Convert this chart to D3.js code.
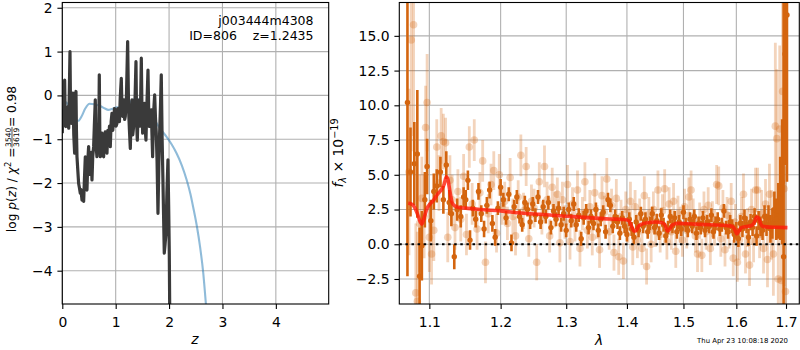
<!DOCTYPE html>
<html><head><meta charset="utf-8">
<script src="https://cdn.jsdelivr.net/npm/d3@7"></script>
<style>body{margin:0;background:#fff}svg{display:block;font-family:"DejaVu Sans",sans-serif}</style>
</head><body><svg id="c" width="800" height="350"></svg>
<script>
// ---------- data: left panel ----------
const zTicks = [0,1,2,3,4];
const logpTicks = [-4,-3,-2,-1,0,1,2];
const pzPoints = [[0.000,-0.86],[0.010,-0.35],[0.020,-0.70],[0.030,-0.45],[0.044,0.35],[0.055,-0.60],[0.069,-0.71],[0.085,-0.30],[0.106,-0.26],[0.120,-0.75],[0.144,1.00],[0.155,-0.40],[0.169,-0.64],[0.185,-0.20],[0.200,0.05],[0.215,-0.90],[0.231,-1.32],[0.245,0.00],[0.256,0.09],[0.265,-0.80],[0.275,-1.40],[0.290,-1.70],[0.306,-2.01],[0.320,-2.10],[0.337,-2.23],[0.350,-2.15],[0.369,-2.39],[0.385,-2.20],[0.400,-2.42],[0.415,-1.90],[0.431,-1.40],[0.445,-1.95],[0.462,-2.16],[0.478,-1.50],[0.493,-1.17],[0.510,-1.80],[0.525,-1.63],[0.540,-1.30],[0.556,-1.93],[0.570,-1.40],[0.587,-1.17],[0.600,-0.70],[0.618,-0.10],[0.630,-1.10],[0.649,-1.40],[0.665,-0.90],[0.680,-1.30],[0.693,0.47],[0.703,-0.90],[0.712,-1.40],[0.728,-1.00],[0.743,-0.86],[0.758,-1.35],[0.774,-1.40],[0.790,-0.95],[0.805,-0.83],[0.820,-1.20],[0.837,-1.32],[0.852,-0.80],[0.868,-1.02],[0.884,-0.70],[0.899,-1.17],[0.915,-0.60],[0.930,-0.41],[0.945,-0.80],[0.961,-0.56],[0.977,-0.30],[0.993,-0.33],[1.008,-0.70],[1.024,-0.64],[1.040,-0.30],[1.055,-0.41],[1.070,-0.60],[1.086,-0.03],[1.105,0.39],[1.118,-0.30],[1.130,-0.48],[1.143,-0.20],[1.155,-0.10],[1.168,-0.55],[1.180,-0.48],[1.200,-0.10],[1.224,1.23],[1.242,-0.33],[1.258,-0.80],[1.274,-1.21],[1.290,-0.40],[1.305,-0.10],[1.320,-0.90],[1.336,-0.71],[1.360,-0.20],[1.380,0.77],[1.392,-0.60],[1.405,-1.02],[1.420,-0.40],[1.442,-0.10],[1.460,-0.70],[1.480,0.85],[1.492,-0.30],[1.505,-0.86],[1.520,-0.50],[1.542,-0.18],[1.555,-0.80],[1.567,-1.02],[1.585,-0.20],[1.605,0.58],[1.618,-0.30],[1.630,-0.71],[1.650,-0.40],[1.667,-0.33],[1.680,-0.90],[1.692,-1.40],[1.710,-0.40],[1.730,0.01],[1.745,-0.50],[1.760,-0.86],[1.775,-1.50],[1.792,-2.69],[1.808,-1.60],[1.823,-0.86],[1.840,-0.20],[1.854,0.47],[1.870,-1.00],[1.885,-1.93],[1.898,-2.80],[1.910,-3.60],[1.925,-3.40],[1.942,-3.15],[1.960,-2.20],[1.979,-1.47],[1.992,-2.50],[2.004,-3.60],[2.016,-5.50],[2.020,-8.00]];
const priorPoints = [[0,-0.48],[0.03,-0.25],[0.07,-0.16],[0.12,-0.25],[0.18,-0.45],[0.24,-0.56],[0.30,-0.58],[0.36,-0.48],[0.43,-0.30],[0.51,-0.19],[0.60,-0.20],[0.71,-0.24],[0.80,-0.30],[0.86,-0.33],[0.93,-0.31],[1.02,-0.27],[1.10,-0.27],[1.17,-0.26],[1.25,-0.18],[1.32,-0.10],[1.39,-0.07],[1.45,-0.12],[1.52,-0.20],[1.58,-0.28],[1.68,-0.45],[1.77,-0.64],[1.86,-0.80],[1.95,-0.94],[2.05,-1.12],[2.14,-1.32],[2.24,-1.60],[2.33,-1.93],[2.40,-2.25],[2.45,-2.54],[2.52,-2.98],[2.58,-3.45],[2.64,-4.05],[2.69,-4.76],[2.75,-5.60]];
const annotLines = ["j003444m4308", "ID=806    z=1.2435"];

// ---------- data: right panel ----------
const lamTicks = [1.1,1.2,1.3,1.4,1.5,1.6,1.7];
const fluxTicks = [-2.5,0,2.5,5,7.5,10,12.5,15];
const darkPts = [[1.071,10.2,12.5],[1.075,5.2,3.2],[1.080,5.8,3.0],[1.084,6.5,4.6],[1.087,-2.3,3.5],[1.090,-0.1,2.5],[1.094,3.2,2.0],[1.097,5.6,2.0],[1.102,1.7,1.5],[1.106,3.8,1.3],[1.110,4.2,1.2],[1.115,5.2,1.1],[1.119,3.2,1.0],[1.123,5.7,1.0],[1.127,3.0,0.9],[1.130,2.2,0.9],[1.134,-0.9,0.9],[1.138,2.5,0.8],[1.143,2.0,0.8],[1.147,3.4,0.7],[1.150,3.2,0.7],[1.153,4.6,0.7],[1.156,0.3,0.7],
[1.160,2.6,0.6],[1.164,1.8,0.6],[1.168,3.8,0.6],[1.172,2.2,0.6],[1.176,1.1,0.6],[1.180,2.8,0.6],[1.184,3.9,0.6],[1.188,1.5,0.6],[1.192,0.5,0.6],[1.196,2.6,0.5],[1.200,4.1,0.6],[1.204,3.2,0.5],[1.208,1.9,0.5],[1.212,3.6,0.5],[1.216,0.1,0.6],[1.220,2.7,0.5],[1.224,3.4,0.5],[1.228,2.0,0.5],[1.232,1.4,0.5],[1.236,3.0,0.5],[1.240,2.5,0.5],[1.244,1.6,0.5],[1.248,2.9,0.5],[1.252,2.1,0.5],[1.256,3.4,0.5],[1.260,1.6,0.5],[1.264,2.7,0.5],[1.268,2.0,0.5],[1.272,3.0,0.5],[1.276,1.2,0.5],[1.280,2.4,0.5],[1.284,1.8,0.5],[1.288,2.6,0.5],[1.292,1.4,0.5],[1.296,2.2,0.5],[1.300,1.0,0.5],[1.304,2.5,0.5],[1.308,1.7,0.5],[1.312,2.9,0.5],[1.316,1.4,0.5],[1.320,2.1,0.5],[1.324,0.4,0.5],[1.328,1.9,0.5],[1.332,2.4,0.5],[1.336,1.2,0.5],[1.340,2.0,0.5],[1.344,1.5,0.5],[1.348,2.5,0.5],[1.352,1.0,0.5],[1.356,1.8,0.5],[1.360,2.3,0.5],[1.364,0.9,0.5],[1.368,3.2,0.5],[1.372,2.8,0.5],[1.376,1.3,0.5],[1.380,2.0,0.5],[1.384,1.6,0.5],[1.388,0.8,0.5],[1.392,1.9,0.5],[1.396,1.3,0.5],[1.400,0.7,0.5],[1.404,1.8,0.5],[1.408,1.1,0.5],[1.412,0.5,0.5],[1.416,1.6,0.5],[1.420,1.0,0.5],[1.424,2.2,0.5],[1.428,1.3,0.5],[1.432,1.8,0.5],[1.436,0.9,0.5],[1.440,1.5,0.5],[1.444,2.2,0.5],[1.448,1.2,0.5],[1.452,1.7,0.5],[1.456,0.8,0.5],[1.460,2.1,0.5],[1.464,1.4,0.5],[1.468,0.6,0.5],[1.472,1.2,0.5],[1.476,2.0,0.5],[1.480,1.3,0.5],[1.484,1.9,0.5],[1.488,0.9,0.5],[1.492,1.6,0.5],[1.496,1.1,0.5],[1.500,2.3,0.5],[1.504,1.4,0.5],[1.508,1.0,0.5],[1.512,1.8,0.5],[1.516,1.3,0.5],[1.520,2.0,0.5],[1.524,0.8,0.5],[1.528,1.5,0.5],[1.532,1.2,0.5],[1.536,1.9,0.5],[1.540,1.0,0.5],[1.544,1.6,0.5],[1.548,1.3,0.5],[1.552,2.1,0.5],[1.556,0.9,0.5],[1.560,1.5,0.5],[1.564,1.8,0.5],[1.568,1.1,0.5],[1.572,1.4,0.5],[1.576,2.4,0.5],[1.580,1.2,0.5],[1.584,0.9,0.5],[1.588,1.6,0.5],[1.592,1.3,0.5],[1.596,0.7,0.6],[1.600,1.0,0.6],[1.604,0.4,0.6],[1.608,1.5,0.6],[1.612,1.1,0.6],[1.616,1.9,0.6],[1.620,1.4,0.6],[1.624,0.5,0.6],[1.628,1.6,0.6],[1.632,1.2,0.6],[1.636,2.0,0.6],[1.640,0.6,0.7],[1.644,1.7,0.7],[1.648,1.3,0.7],[1.652,1.0,0.7],[1.656,2.0,0.8],[1.660,1.4,0.8],[1.664,1.9,0.9],[1.668,1.1,1.0],[1.672,1.5,1.1],[1.676,2.5,1.3],[1.680,1.8,1.5],[1.684,2.4,2.0],[1.688,3.3,3.0],[1.692,4.5,4.5],[1.695,-0.9,19],[1.698,13.7,8],[1.702,16.5,12]];
const lightPts = [[1.073,5.2,6.0],[1.076,14.7,8.0],[1.079,15.8,8.0],[1.082,-3.5,5.0],[1.084,-4.1,5.0],[1.087,1.5,3.5],[1.090,3.3,3.0],[1.093,2.0,3.0],[1.095,8.4,3.0],[1.097,10.2,3.5],[1.100,0.5,2.5],[1.103,-0.7,2.2],[1.106,1.0,2.2],[1.110,7.0,2.0],[1.113,4.4,2.0],[1.116,7.8,2.0],[1.119,7.4,2.0],[1.122,7.3,1.8],[1.125,0.5,1.8],[1.128,4.6,1.8],[1.131,3.2,1.8],[1.135,1.2,1.6],[1.139,3.8,1.6],[1.143,1.8,1.6],[1.147,4.9,1.6],[1.151,0.7,1.5],[1.155,7.0,1.5],[1.159,2.9,1.5],[1.162,7.5,1.5],[1.166,1.1,1.5],[1.170,3.7,1.5],[1.174,6.0,1.5],[1.178,-1.3,1.5],[1.182,2.2,1.4],[1.186,4.3,1.5],[1.190,5.3,1.4],[1.194,0.8,1.4],[1.198,5.0,1.5],[1.202,2.7,1.3],[1.206,3.1,1.4],[1.210,1.5,1.2],[1.214,4.8,1.4],[1.218,2.0,1.3],[1.222,0.6,1.4],[1.226,3.4,1.2],[1.230,6.4,1.5],[1.234,2.4,1.3],[1.238,5.6,1.4],[1.242,0.4,1.3],[1.246,3.1,1.2],[1.250,2.6,1.4],[1.254,-1.3,1.3],[1.258,4.5,1.4],[1.262,1.9,1.2],[1.266,5.6,1.5],[1.270,3.2,1.3],[1.274,0.6,1.2],[1.278,4.1,1.4],[1.282,2.5,1.3],[1.286,3.6,1.2],[1.290,0.1,1.4],[1.294,3.2,1.3],[1.298,1.6,1.2],[1.302,4.3,1.4],[1.306,0.2,1.3],[1.310,2.9,1.2],[1.314,1.5,1.3],[1.318,3.9,1.4],[1.322,-0.3,1.3],[1.326,2.2,1.2],[1.330,4.5,1.4],[1.334,1.0,1.3],[1.338,2.7,1.2],[1.342,0.5,1.3],[1.346,3.7,1.4],[1.350,1.6,1.2],[1.354,-0.4,1.3],[1.358,3.5,1.4],[1.362,2.3,1.2],[1.366,4.7,1.5],[1.370,0.9,1.3],[1.374,2.8,1.2],[1.378,-0.6,1.3],[1.382,3.3,1.4],[1.386,-0.9,1.3],[1.390,2.0,1.2],[1.394,-1.2,1.3],[1.398,2.5,1.3],[1.402,1.3,1.2],[1.406,3.1,1.4],[1.410,-0.2,1.3],[1.414,2.7,1.2],[1.418,0.3,1.3],[1.422,2.0,1.3],[1.426,-0.3,1.2],[1.430,3.5,1.4],[1.434,-1.6,1.3],[1.438,2.2,1.2],[1.442,0.0,1.3],[1.446,2.5,1.3],[1.450,1.0,1.2],[1.454,3.9,1.4],[1.458,0.7,1.3],[1.462,2.4,1.2],[1.466,4.0,1.4],[1.470,0.2,1.3],[1.474,2.9,1.2],[1.478,0.9,1.3],[1.482,3.1,1.3],[1.486,-0.5,1.2],[1.490,2.2,1.3],[1.494,1.4,1.3],[1.498,0.3,1.2],[1.502,2.7,1.3],[1.506,1.0,1.3],[1.510,3.4,1.4],[1.514,3.9,1.4],[1.518,2.0,1.3],[1.522,0.6,1.2],[1.526,-0.7,1.3],[1.530,1.7,1.3],[1.534,-0.8,1.2],[1.538,2.5,1.3],[1.542,0.9,1.3],[1.546,2.8,1.3],[1.550,-0.3,1.2],[1.554,1.8,1.3],[1.558,1.2,1.3],[1.562,4.3,1.4],[1.566,4.2,1.4],[1.570,0.4,1.3],[1.574,2.6,1.3],[1.578,-0.4,1.2],[1.582,2.1,1.3],[1.586,1.0,1.3],[1.590,3.1,1.3],[1.594,-1.0,1.3],[1.598,1.6,1.3],[1.602,-1.3,1.4],[1.606,0.3,1.4],[1.610,2.0,1.4],[1.614,3.6,1.5],[1.618,-0.7,1.4],[1.622,1.2,1.4],[1.626,-1.5,1.5],[1.630,2.5,1.5],[1.634,0.2,1.5],[1.638,3.9,1.6],[1.642,3.9,1.6],[1.646,0.7,1.7],[1.650,2.2,1.7],[1.654,-0.3,1.8],[1.658,2.9,1.8],[1.662,-1.1,2.0],[1.666,3.6,2.2],[1.670,1.4,2.5],[1.674,-0.7,3.0],[1.678,8.5,6.0],[1.681,7.6,5.0],[1.684,-2.5,6.0],[1.687,8.3,6.0],[1.690,-2.6,8.0],[1.693,11.0,8.0],[1.696,4.0,7.0],[1.699,-3.4,9.0]];
const modelPts = [[1.072,2.95],[1.076,2.9],[1.080,2.7],[1.084,2.2],[1.088,1.6],[1.090,1.45],[1.093,1.9],[1.097,2.6],[1.101,2.9],[1.106,3.2],[1.111,3.6],[1.116,3.9],[1.120,4.3],[1.123,4.85],[1.125,4.7],[1.128,3.8],[1.131,3.0],[1.135,2.75],[1.140,2.65],[1.150,2.6],[1.170,2.5],[1.200,2.4],[1.230,2.25],[1.260,2.15],[1.300,2.02],[1.340,1.9],[1.370,1.82],[1.395,1.78],[1.403,1.7],[1.408,1.3],[1.412,0.95],[1.416,1.0],[1.420,1.3],[1.426,1.45],[1.435,1.55],[1.450,1.6],[1.462,1.55],[1.467,1.35],[1.471,0.95],[1.475,1.1],[1.480,1.4],[1.490,1.5],[1.520,1.45],[1.550,1.4],[1.580,1.35],[1.592,1.3],[1.597,1.05],[1.601,0.75],[1.605,0.95],[1.610,1.2],[1.620,1.28],[1.630,1.35],[1.636,1.6],[1.640,1.95],[1.644,1.9],[1.648,1.5],[1.652,1.3],[1.660,1.25],[1.680,1.22],[1.703,1.2]];
const stamp = "Thu Apr 23 10:08:18 2020";

// ---------- drawing ----------
const svg = d3.select('#c');
const FS = 13.9, GRID = '#b0b0b0';
const minus = v => (v < 0 ? '\u2212' : '');
const fmtInt = d => minus(d) + Math.abs(d);
const fmt1 = d => minus(d) + Math.abs(d).toFixed(1);

function panel(x, y, xTicks, yTicks, xf, yf, id) {
  const [x0, x1] = x.range(), [y1, y0] = y.range();
  svg.append('clipPath').attr('id', id).append('rect')
    .attr('x', x0).attr('y', y0).attr('width', x1 - x0).attr('height', y1 - y0);
  const g = svg.append('g');
  g.selectAll('.gx').data(xTicks).join('line')
    .attr('x1', d => x(d)).attr('x2', d => x(d)).attr('y1', y0).attr('y2', y1)
    .attr('stroke', GRID).attr('stroke-width', 1.1);
  g.selectAll('.gy').data(yTicks).join('line')
    .attr('y1', d => y(d)).attr('y2', d => y(d)).attr('x1', x0).attr('x2', x1)
    .attr('stroke', GRID).attr('stroke-width', 1.1);
  const ax = svg.append('g').attr('transform', `translate(0,${y1})`)
    .call(d3.axisBottom(x).tickValues(xTicks).tickFormat(xf).tickSize(4.9).tickPadding(4.9));
  const ay = svg.append('g').attr('transform', `translate(${x0},0)`)
    .call(d3.axisLeft(y).tickValues(yTicks).tickFormat(yf).tickSize(4.9).tickPadding(4.9));
  [ax, ay].forEach(a => {
    a.select('.domain').remove();
    a.selectAll('line').attr('stroke', '#000').attr('stroke-width', 1.1);
    a.selectAll('text').attr('font-size', FS).attr('font-family', 'DejaVu Sans').attr('fill', '#000');
  });
  ax.selectAll('text').attr('dy', '0.92em');
  return svg.append('g').attr('clip-path', `url(#${id})`);
}
function frame(x, y) {
  const [x0, x1] = x.range(), [y1, y0] = y.range();
  svg.append('rect').attr('x', x0).attr('y', y0).attr('width', x1 - x0).attr('height', y1 - y0)
    .attr('fill', 'none').attr('stroke', '#000').attr('stroke-width', 1.1);
}

// Left panel
const xz = d3.scaleLinear().domain([0, 4.99]).range([62.3, 328.7]);
const yp = d3.scaleLinear().domain([-4.76, 2.12]).range([304, 2.5]);
const pl = panel(xz, yp, zTicks, logpTicks, fmtInt, fmtInt, 'clipL');
pl.append('path').datum(priorPoints)
  .attr('d', d3.line().x(d => xz(d[0])).y(d => yp(d[1])).curve(d3.curveMonotoneX))
  .attr('fill', 'none').attr('stroke', '#1f77b4').attr('stroke-opacity', 0.5).attr('stroke-width', 2.1);
pl.append('path').datum(pzPoints)
  .attr('d', d3.line().x(d => xz(d[0])).y(d => yp(d[1])))
  .attr('fill', 'none').attr('stroke', '#3a3a3a').attr('stroke-width', 3.2).attr('stroke-linejoin', 'round');
frame(xz, yp);
annotLines.forEach((t, i) => {
  svg.append('text').attr('x', 313.5).attr('y', 25 + i * 14.5).attr('text-anchor', 'end')
    .attr('font-size', 12.5).style('white-space', 'pre').text(t);
});

// Right panel
const xl = d3.scaleLog().domain([1.0604, 1.7278]).range([399.3, 799.3]);
const yf = d3.scaleLinear().domain([-4.3, 17.4]).range([304, 2.5]);
const pr = panel(xl, yf, lamTicks, fluxTicks, d => d.toFixed(1), fmt1, 'clipR');
const ORANGE = '#d4650f';
pr.append('g').selectAll('line').data(lightPts).join('line')
  .attr('x1', d => xl(d[0])).attr('x2', d => xl(d[0]))
  .attr('y1', d => yf(d[1] - d[2])).attr('y2', d => yf(d[1] + d[2]))
  .attr('stroke', ORANGE).attr('stroke-opacity', 0.28).attr('stroke-width', 2.8);
pr.append('g').selectAll('circle').data(lightPts).join('circle')
  .attr('cx', d => xl(d[0])).attr('cy', d => yf(d[1])).attr('r', 3.8)
  .attr('fill', ORANGE).attr('fill-opacity', 0.28);
const dg = pr.append('g');
dg.selectAll('line').data(darkPts).join('line')
  .attr('x1', d => xl(d[0])).attr('x2', d => xl(d[0]))
  .attr('y1', d => yf(d[1] - d[2])).attr('y2', d => yf(d[1] + d[2]))
  .attr('stroke', ORANGE).attr('stroke-width', 2.6);
dg.selectAll('circle').data(darkPts).join('circle')
  .attr('cx', d => xl(d[0])).attr('cy', d => yf(d[1])).attr('r', 2.7).attr('fill', ORANGE);
pr.append('path').datum(modelPts)
  .attr('d', d3.line().x(d => xl(d[0])).y(d => yf(d[1])).curve(d3.curveMonotoneX))
  .attr('fill', 'none').attr('stroke', '#ff1a0a').attr('stroke-opacity', 0.8)
  .attr('stroke-width', 3.6).attr('stroke-linejoin', 'round');
pr.append('line').attr('x1', 399.3).attr('x2', 799.3).attr('y1', yf(0)).attr('y2', yf(0))
  .attr('stroke', '#000').attr('stroke-width', 2.2).attr('stroke-dasharray', '2.5,3.6');
frame(xl, yf);

// Axis labels
svg.append('text').attr('x', 195).attr('y', 344).attr('text-anchor', 'middle')
  .attr('font-size', FS).attr('font-style', 'italic').text('z');
svg.append('text').attr('x', 599).attr('y', 345).attr('text-anchor', 'middle')
  .attr('font-size', FS).attr('font-style', 'italic').text('λ');
// right y label
const ry = svg.append('g').attr('transform', 'translate(343,153) rotate(-90)')
  .append('text').attr('text-anchor', 'middle').attr('font-size', FS);
ry.append('tspan').attr('font-style', 'italic').text('f');
ry.append('tspan').attr('font-style', 'italic').attr('font-size', 9.7).attr('dy', 3).text('λ');
ry.append('tspan').attr('dy', -3).text(' × 10');
ry.append('tspan').attr('font-size', 9.7).attr('dy', -5.5).text('\u221219');
// left y label
const LFS = 12.2;
const lgL = svg.append('g').attr('transform', 'translate(16,159) rotate(-90)');
const t1 = lgL.append('text').attr('font-size', LFS);
t1.append('tspan').text('log ');
t1.append('tspan').attr('font-style', 'italic').text('p');
t1.append('tspan').text('(');
t1.append('tspan').attr('font-style', 'italic').text('z');
t1.append('tspan').text(') / ');
t1.append('tspan').attr('font-style', 'italic').text('χ');
t1.append('tspan').attr('font-size', 8.5).attr('dy', -5).text('2');
t1.append('tspan').attr('dy', 5).text(' = ');
const num = lgL.append('text').attr('font-size', 7.6).attr('text-anchor', 'middle').text('3540');
const den = lgL.append('text').attr('font-size', 7.6).attr('text-anchor', 'middle').text('3619');
const t3 = lgL.append('text').attr('font-size', LFS).text(' = 0.98');
const w1 = t1.node().getComputedTextLength();
const wf = Math.max(num.node().getComputedTextLength(), den.node().getComputedTextLength()) + 1;
const w3 = t3.node().getComputedTextLength();
const start = -(w1 + wf + w3) / 2;
t1.attr('x', start);
num.attr('x', start + w1 + wf / 2).attr('y', -5.5);
den.attr('x', start + w1 + wf / 2).attr('y', 3);
lgL.append('line').attr('x1', start + w1).attr('x2', start + w1 + wf).attr('y1', -4).attr('y2', -4)
  .attr('stroke', '#000').attr('stroke-width', 0.7);
t3.attr('x', start + w1 + wf);
// timestamp
svg.append('text').attr('x', 788).attr('y', 343).attr('text-anchor', 'end')
  .attr('font-size', 6.9).text(stamp);
</script></body></html>
